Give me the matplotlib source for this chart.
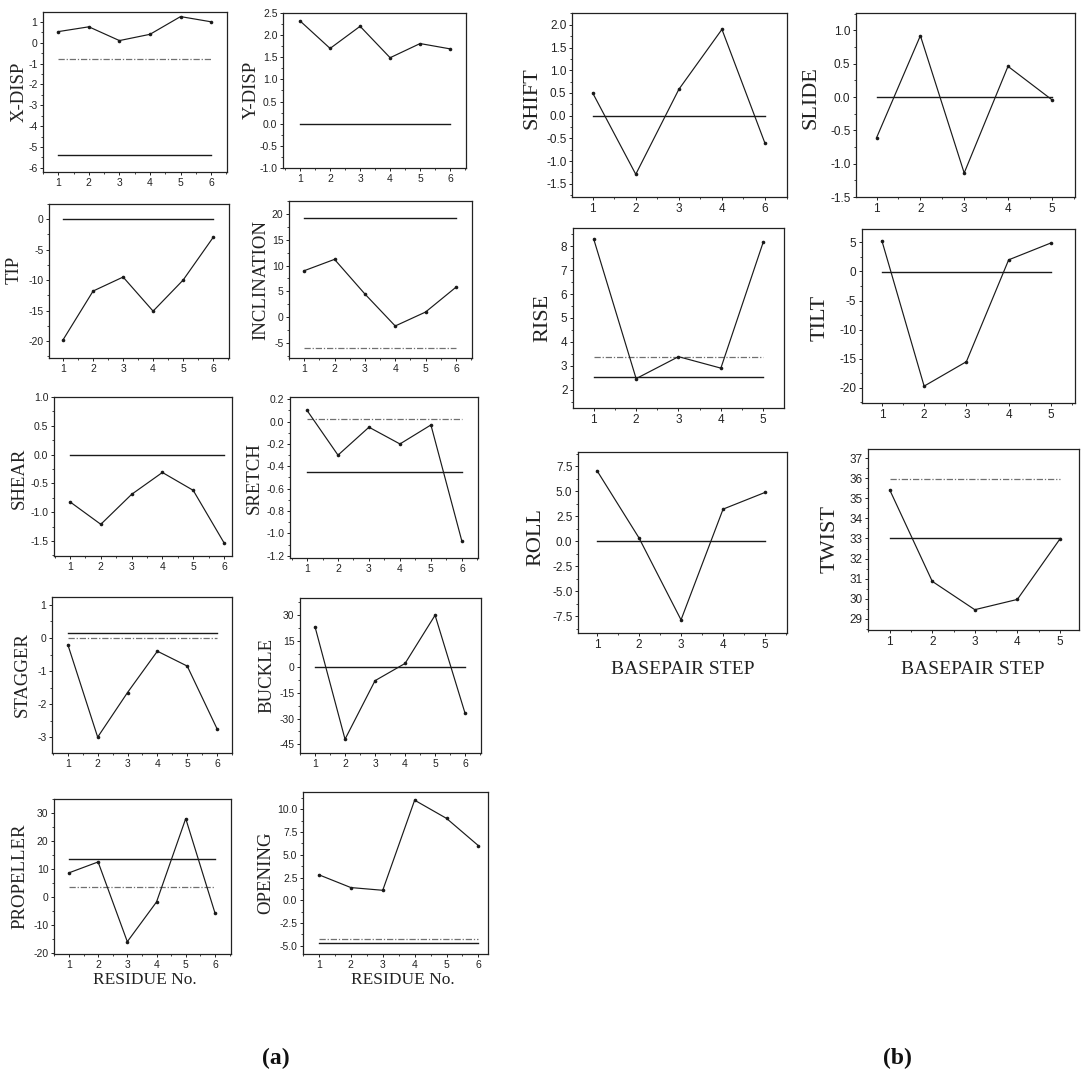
import matplotlib
matplotlib.use("Agg")
import matplotlib.pyplot as plt
from matplotlib.ticker import AutoMinorLocator, FixedLocator, FormatStrFormatter

W, H = 1081, 1078
plt.rcParams["axes.unicode_minus"] = False
plt.rcParams["font.family"] = ["Liberation Sans", "DejaVu Sans"]

# ---- data: (a) base-pair parameters per residue -----------------------------
residue = [1, 2, 3, 4, 5, 6]
residue_labels = ["1", "2", "3", "4", "5", "6"]

x_disp = [0.53, 0.76, 0.10, 0.40, 1.25, 1.00]
x_disp_solid, x_disp_dash = -5.4, -0.8
y_disp = [2.32, 1.70, 2.20, 1.49, 1.81, 1.69]
y_disp_solid = 0.0
tip = [-19.8, -11.8, -9.5, -15.1, -10.0, -3.0]
tip_solid = 0.0
inclination = [9.0, 11.2, 4.5, -1.7, 1.0, 5.8]
inclination_solid, inclination_dash = 19.2, -5.9
shear = [-0.82, -1.21, -0.69, -0.31, -0.62, -1.53]
shear_solid = 0.0
sretch = [0.10, -0.30, -0.05, -0.20, -0.03, -1.07]
sretch_solid, sretch_dash = -0.45, 0.02
stagger = [-0.2, -3.0, -1.65, -0.4, -0.85, -2.75]
stagger_solid, stagger_dash = 0.15, 0.0
buckle = [23.3, -42.0, -8.0, 2.0, 30.0, -27.0]
buckle_solid = 0.0
propeller = [8.6, 12.5, -16.0, -1.8, 28.0, -5.7]
propeller_solid, propeller_dash = 13.6, 3.6
opening = [2.8, 1.4, 1.1, 11.0, 9.0, 6.0]
opening_solid, opening_dash = -4.7, -4.2

# ---- data: (b) base-pair step parameters ------------------------------------
bp_step = [1, 2, 3, 4, 5]
bp_step_labels = ["1", "2", "3", "4", "5"]
shift_step_labels = ["1", "2", "3", "4", "6"]

shift = [0.50, -1.29, 0.58, 1.90, -0.61]
shift_solid = 0.0
slide = [-0.61, 0.92, -1.14, 0.46, -0.04]
slide_solid = 0.0
rise = [8.30, 2.46, 3.38, 2.90, 8.18]
rise_solid, rise_dash = 2.52, 3.35
tilt = [5.3, -19.7, -15.5, 2.0, 4.9]
tilt_solid = -0.1
roll = [7.05, 0.33, -7.85, 3.20, 4.87]
roll_solid = 0.0
twist = [35.42, 30.87, 29.46, 29.97, 32.97]
twist_solid, twist_dash = 33.0, 35.95

# ---- panel definitions -------------------------------------------------------
# box = (left, top, right, bottom) in pixels; label = centre of the y label
panels = [
    dict(name="X-DISP", x=residue, y=x_disp, solid=x_disp_solid, dash=x_disp_dash,
         yticks=[1, 0, -1, -2, -3, -4, -5, -6], fmt="%d", xt=residue_labels,
         box=(43, 12, 227, 172), xlim=(0.5, 6.52), ylim=(-6.2, 1.47), label=(19, 92)),
    dict(name="Y-DISP", x=residue, y=y_disp, solid=y_disp_solid, dash=None,
         yticks=[2.5, 2.0, 1.5, 1.0, 0.5, 0.0, -0.5, -1.0], fmt="%.1f", xt=residue_labels,
         box=(283, 13, 466, 168), xlim=(0.43, 6.53), ylim=(-1.0, 2.5), label=(251, 90)),
    dict(name="TIP", x=residue, y=tip, solid=tip_solid, dash=None,
         yticks=[0, -5, -10, -15, -20], fmt="%d", xt=residue_labels,
         box=(49, 204, 229, 358), xlim=(0.53, 6.53), ylim=(-22.8, 2.5), label=(14, 270)),
    dict(name="INCLINATION", x=residue, y=inclination, solid=inclination_solid,
         dash=inclination_dash, yticks=[20, 15, 10, 5, 0, -5], fmt="%d", xt=residue_labels,
         box=(289, 201, 472, 358), xlim=(0.5, 6.53), ylim=(-7.9, 22.5), label=(261, 280)),
    dict(name="SHEAR", x=residue, y=shear, solid=shear_solid, dash=None,
         yticks=[1.0, 0.5, 0.0, -0.5, -1.0, -1.5], fmt="%.1f", xt=residue_labels,
         box=(54, 397, 232, 556), xlim=(0.48, 6.26), ylim=(-1.76, 1.0), label=(19, 478)),
    dict(name="SRETCH", x=residue, y=sretch, solid=sretch_solid, dash=sretch_dash,
         yticks=[0.2, 0.0, -0.2, -0.4, -0.6, -0.8, -1.0, -1.2], fmt="%.1f", xt=residue_labels,
         box=(290, 397, 478, 558), xlim=(0.45, 6.52), ylim=(-1.22, 0.22), label=(254, 478)),
    dict(name="STAGGER", x=residue, y=stagger, solid=stagger_solid, dash=stagger_dash,
         yticks=[1, 0, -1, -2, -3], fmt="%d", xt=residue_labels,
         box=(52, 597, 232, 753), xlim=(0.47, 6.5), ylim=(-3.48, 1.24), label=(22, 675)),
    dict(name="BUCKLE", x=residue, y=buckle, solid=buckle_solid, dash=None,
         yticks=[30, 15, 0, -15, -30, -45], fmt="%d", xt=residue_labels,
         box=(300, 598, 481, 753), xlim=(0.5, 6.53), ylim=(-50, 40), label=(267, 675)),
    dict(name="PROPELLER", x=residue, y=propeller, solid=propeller_solid, dash=propeller_dash,
         yticks=[30, 20, 10, 0, -10, -20], fmt="%d", xt=residue_labels,
         box=(54, 799, 231, 954), xlim=(0.49, 6.55), ylim=(-20.4, 35), label=(20, 876)),
    dict(name="OPENING", x=residue, y=opening, solid=opening_solid, dash=opening_dash,
         yticks=[10.0, 7.5, 5.0, 2.5, 0.0, -2.5, -5.0], fmt="%.1f", xt=residue_labels,
         box=(303, 792, 488, 954), xlim=(0.5, 6.3), ylim=(-5.9, 11.9), label=(266, 873)),
    dict(name="SHIFT", x=bp_step, y=shift, solid=shift_solid, dash=None,
         yticks=[2.0, 1.5, 1.0, 0.5, 0.0, -0.5, -1.0, -1.5], fmt="%.1f", xt=shift_step_labels,
         box=(572, 13, 787, 197), xlim=(0.52, 5.51), ylim=(-1.79, 2.26), label=(532, 98), big=True),
    dict(name="SLIDE", x=bp_step, y=slide, solid=slide_solid, dash=None,
         yticks=[1.0, 0.5, 0.0, -0.5, -1.0, -1.5], fmt="%.1f", xt=bp_step_labels,
         box=(856, 13, 1075, 197), xlim=(0.53, 5.53), ylim=(-1.5, 1.26), label=(811, 98), big=True),
    dict(name="RISE", x=bp_step, y=rise, solid=rise_solid, dash=rise_dash,
         yticks=[2, 3, 4, 5, 6, 7, 8], fmt="%d", xt=bp_step_labels,
         box=(573, 228, 784, 408), xlim=(0.51, 5.49), ylim=(1.23, 8.77), label=(543, 318), big=True),
    dict(name="TILT", x=bp_step, y=tilt, solid=tilt_solid, dash=None,
         yticks=[5, 0, -5, -10, -15, -20], fmt="%d", xt=bp_step_labels,
         box=(862, 229, 1075, 403), xlim=(0.53, 5.57), ylim=(-22.6, 7.3), label=(820, 318), big=True),
    dict(name="ROLL", x=bp_step, y=roll, solid=roll_solid, dash=None,
         yticks=[7.5, 5.0, 2.5, 0.0, -2.5, -5.0, -7.5], fmt="%.1f", xt=bp_step_labels,
         box=(578, 452, 787, 633), xlim=(0.55, 5.52), ylim=(-9.16, 8.9), label=(536, 537), big=True),
    dict(name="TWIST", x=bp_step, y=twist, solid=twist_solid, dash=twist_dash,
         yticks=[29, 30, 31, 32, 33, 34, 35, 36, 37], fmt="%d", xt=bp_step_labels,
         box=(868, 449, 1079, 630), xlim=(0.49, 5.45), ylim=(28.45, 37.45), label=(830, 539), big=True),
]

SERIF = ["Liberation Serif", "DejaVu Serif"]
DASHDOT = (0, (5, 1.5, 1, 1.5))

fig = plt.figure(figsize=(W / 100, H / 100), dpi=100)
fig.patch.set_facecolor("white")

for p in panels:
    l, t, r, b = p["box"]
    ax = fig.add_axes([l / W, 1 - b / H, (r - l) / W, (b - t) / H])
    big = p.get("big", False)
    x = p["x"]
    x0, x1 = x[0], x[-1]
    if p["solid"] is not None:
        ax.plot([x0, x1], [p["solid"], p["solid"]], color="#1a1a1a", lw=1.0, zorder=2)
    if p["dash"] is not None:
        ax.plot([x0, x1], [p["dash"], p["dash"]], color="#707070", lw=0.9,
                linestyle=DASHDOT, zorder=2)
    ax.plot(x, p["y"], color="#1a1a1a", lw=0.85, marker="o", ms=2.6,
            markerfacecolor="#1a1a1a", markeredgewidth=0, zorder=3)

    ax.set_xlim(*p["xlim"])
    ax.set_ylim(*p["ylim"])
    ax.xaxis.set_major_locator(FixedLocator(x))
    ax.set_xticklabels(p["xt"])
    ax.yaxis.set_major_locator(FixedLocator(p["yticks"]))
    ax.yaxis.set_major_formatter(FormatStrFormatter(p["fmt"]))
    ax.yaxis.set_minor_locator(AutoMinorLocator(2))
    ax.xaxis.set_minor_locator(AutoMinorLocator(2))
    fs = 8.5 if big else 7.5
    ax.tick_params(which="major", direction="out", length=2.5, width=0.7,
                   labelsize=fs, pad=1.5, colors="#222222")
    ax.tick_params(which="minor", direction="out", length=1.3, width=0.6, colors="#222222")
    for s in ax.spines.values():
        s.set_linewidth(0.9)
        s.set_color("#222222")

    lx, ly = p["label"]
    fig.text(lx / W, 1 - ly / H, p["name"], rotation=90, ha="center", va="center",
             family=SERIF, fontsize=16 if big else 13.5, color="#222222")

# axis titles below the bottom panels
fig.text(145 / W, 1 - 980 / H, "RESIDUE No.", ha="center", va="center",
         family=SERIF, fontsize=12.5, color="#222222")
fig.text(403 / W, 1 - 980 / H, "RESIDUE No.", ha="center", va="center",
         family=SERIF, fontsize=12.5, color="#222222")
fig.text(683 / W, 1 - 670 / H, "BASEPAIR STEP", ha="center", va="center",
         family=SERIF, fontsize=14, color="#222222")
fig.text(973 / W, 1 - 670 / H, "BASEPAIR STEP", ha="center", va="center",
         family=SERIF, fontsize=14, color="#222222")

# panel group tags
fig.text(276 / W, 1 - 1058 / H, "(a)", ha="center", va="center",
         family=SERIF, fontsize=17, fontweight="bold", color="#111111")
fig.text(897 / W, 1 - 1058 / H, "(b)", ha="center", va="center",
         family=SERIF, fontsize=17, fontweight="bold", color="#111111")

fig.savefig("out.png", dpi=100, facecolor="white")
